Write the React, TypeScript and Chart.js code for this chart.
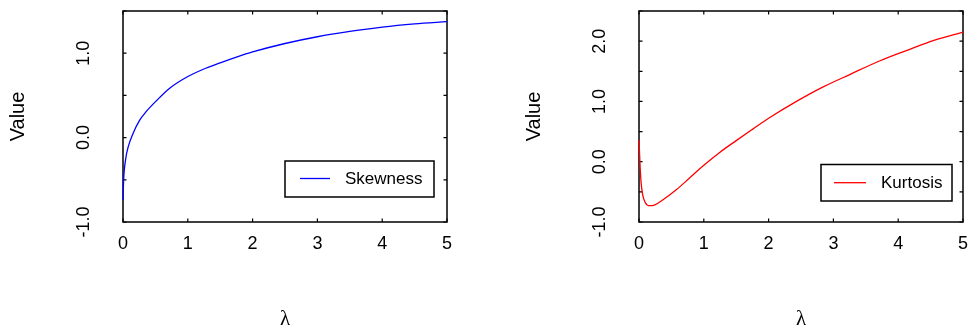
import React, { useEffect, useRef } from "react";
import { Chart, registerables } from "chart.js";

Chart.register(...registerables);

// ---- data ----
const lambdaTicks = [0, 1, 2, 3, 4, 5];

const skewLambda = [0, 0.01, 0.04, 0.08, 0.155, 0.26, 0.36, 0.52, 0.72, 0.98, 1.24, 1.5, 1.75, 2, 2.5, 3, 3.5, 4, 4.5, 5];
const skewValues = [-0.74, -0.5, -0.26, -0.11, 0.05, 0.21, 0.31, 0.44, 0.585, 0.715, 0.81, 0.885, 0.953, 1.015, 1.115, 1.195, 1.258, 1.31, 1.348, 1.375];

const kurtLambda = [0, 0.015, 0.031, 0.057, 0.098, 0.16, 0.236, 0.365, 0.57, 0.776, 1.0, 1.24, 1.5, 1.755, 2.0, 2.43, 2.85, 3.26, 3.72, 4.18, 4.54, 5];
const kurtValues = [0.36, -0.03, -0.33, -0.55, -0.68, -0.73, -0.72, -0.635, -0.47, -0.275, -0.06, 0.15, 0.35, 0.54, 0.72, 1.0, 1.245, 1.45, 1.675, 1.865, 2.01, 2.15];

const skewYLabels = [-1, 0, 1];
const skewYTickMarks = [-1, -0.5, 0, 0.5, 1, 1.5];
const kurtYLabels = [-1, 0, 1, 2];
const kurtYTickMarks = [-1, -0.5, 0, 0.5, 1, 1.5, 2, 2.5];

const yTitle = "Value";
const xTitle = "λ";
const skewLabel = "Skewness";
const kurtLabel = "Kurtosis";

const SANS = '"Liberation Sans", Arial, Helvetica, sans-serif';
const SERIF = '"Liberation Serif", "Times New Roman", serif';

const decorPlugin = {
  id: "decor",
  beforeDatasetsDraw(chart: any) {
    const o = chart.options.plugins.decor;
    if (!o) return;
    const { ctx, chartArea: a, scales } = chart;
    const xs = scales.x;
    const ys = scales.y;
    ctx.save();
    ctx.strokeStyle = "#000";
    ctx.lineWidth = 1.2;
    const tl = 3.5;
    ctx.beginPath();
    for (const v of o.xTickMarks) {
      const px = xs.getPixelForValue(v);
      ctx.moveTo(px, a.bottom);
      ctx.lineTo(px, a.bottom - tl);
      ctx.moveTo(px, a.top);
      ctx.lineTo(px, a.top + tl);
    }
    for (const v of o.yTickMarks) {
      const py = ys.getPixelForValue(v);
      ctx.moveTo(a.left, py);
      ctx.lineTo(a.left + tl, py);
      ctx.moveTo(a.right, py);
      ctx.lineTo(a.right - tl, py);
    }
    ctx.stroke();
    ctx.lineWidth = 1.5;
    ctx.strokeRect(a.left, a.top, a.right - a.left, a.bottom - a.top);

    // y tick labels (rotated)
    ctx.fillStyle = "#000";
    ctx.font = `18px ${SANS}`;
    ctx.textAlign = "center";
    ctx.textBaseline = "middle";
    for (const v of o.yLabels) {
      const py = ys.getPixelForValue(v);
      ctx.save();
      ctx.translate(o.yLabelX, py);
      ctx.rotate(-Math.PI / 2);
      ctx.fillText(v.toFixed(1), 0, 0);
      ctx.restore();
    }
    // y title
    ctx.font = `20px ${SANS}`;
    ctx.save();
    ctx.translate(o.titleX, (a.top + a.bottom) / 2);
    ctx.rotate(-Math.PI / 2);
    ctx.fillText(yTitle, 0, 0);
    ctx.restore();
    // x title
    ctx.font = `21px ${SERIF}`;
    ctx.textBaseline = "alphabetic";
    ctx.fillText(xTitle, (a.left + a.right) / 2, o.xTitleY);
    ctx.restore();
  },
  afterDatasetsDraw(chart: any) {
    const o = chart.options.plugins.decor;
    if (!o) return;
    const { ctx } = chart;
    ctx.save();
    // legend
    const lg = o.legend;
    const ds = chart.data.datasets[0];
    ctx.fillStyle = "#fff";
    ctx.fillRect(lg.x, lg.y, lg.w, lg.h);
    ctx.strokeStyle = "#000";
    ctx.lineWidth = 1.5;
    ctx.strokeRect(lg.x, lg.y, lg.w, lg.h);
    ctx.strokeStyle = ds.borderColor;
    ctx.lineWidth = 1.3;
    ctx.beginPath();
    ctx.moveTo(lg.lineX1, lg.lineY);
    ctx.lineTo(lg.lineX2, lg.lineY);
    ctx.stroke();
    ctx.fillStyle = "#000";
    ctx.font = `17px ${SANS}`;
    ctx.textAlign = "left";
    ctx.textBaseline = "middle";
    ctx.fillText(ds.label, lg.textX, lg.lineY + 1);
    ctx.restore();
  },
};

function buildConfig(
  lam: number[],
  vals: number[],
  label: string,
  color: string,
  yMin: number,
  yMax: number,
  yAxisWidth: number,
  rightPad: number,
  decor: any
): any {
  return {
    type: "line",
    data: {
      datasets: [
        {
          label,
          data: lam.map((x, i) => ({ x, y: vals[i] })),
          borderColor: color,
          borderWidth: 1.3,
          pointRadius: 0,
          cubicInterpolationMode: "monotone",
          fill: false,
          clip: 2,
        },
      ],
    },
    options: {
      responsive: false,
      animation: false,
      events: [],
      layout: { autoPadding: false, padding: { left: 0, top: 11, right: rightPad, bottom: 0 } },
      scales: {
        x: {
          type: "linear",
          min: 0,
          max: 5,
          grid: { display: false, drawTicks: false },
          border: { display: false },
          afterBuildTicks: (s: any) => {
            s.ticks = lambdaTicks.map((v) => ({ value: v }));
          },
          afterFit: (s: any) => {
            s.height = 103;
            s.paddingLeft = 0;
            s.paddingRight = 0;
          },
          ticks: {
            autoSkip: false,
            maxRotation: 0,
            minRotation: 0,
            padding: 11,
            color: "#000",
            font: { family: SANS, size: 18 },
            callback: (v: any) => String(v),
          },
        },
        y: {
          type: "linear",
          min: yMin,
          max: yMax,
          grid: { display: false, drawTicks: false },
          border: { display: false },
          ticks: { display: false },
          afterFit: (s: any) => {
            s.width = yAxisWidth;
            s.paddingTop = 0;
            s.paddingBottom = 0;
          },
        },
      },
      plugins: {
        legend: { display: false },
        tooltip: { enabled: false },
        decor,
      },
    },
    plugins: [decorPlugin],
  };
}

function Panel(props: { left: number; config: any }) {
  const ref = useRef<HTMLCanvasElement | null>(null);
  useEffect(() => {
    if (!ref.current) return;
    const chart = new Chart(ref.current, props.config);
    return () => chart.destroy();
  }, []);
  return (
    <canvas
      ref={ref}
      width={484}
      height={325}
      style={{ position: "absolute", left: props.left, top: 0, width: 484, height: 325, display: "block" }}
    />
  );
}

export default function App() {
  const leftCfg = buildConfig(skewLambda, skewValues, skewLabel, "#0000ff", -1, 1.5, 123, 37, {
    xTickMarks: lambdaTicks,
    yTickMarks: skewYTickMarks,
    yLabels: skewYLabels,
    yLabelX: 84,
    titleX: 18,
    xTitleY: 325,
    legend: { x: 285, y: 161, w: 149, h: 36, lineX1: 300, lineX2: 330, lineY: 178.5, textX: 345 },
  });
  const rightCfg = buildConfig(kurtLambda, kurtValues, kurtLabel, "#ff0000", -1, 2.5, 155, 5, {
    xTickMarks: lambdaTicks,
    yTickMarks: kurtYTickMarks,
    yLabels: kurtYLabels,
    yLabelX: 116,
    titleX: 50,
    xTitleY: 325,
    legend: { x: 337, y: 164.5, w: 131, h: 36.5, lineX1: 350, lineX2: 382, lineY: 182.7, textX: 397 },
  });
  return (
    <div style={{ position: "absolute", left: 0, top: 0, width: 968, height: 325, background: "#fff", overflow: "hidden" }}>
      <Panel left={0} config={leftCfg} />
      <Panel left={484} config={rightCfg} />
    </div>
  );
}
